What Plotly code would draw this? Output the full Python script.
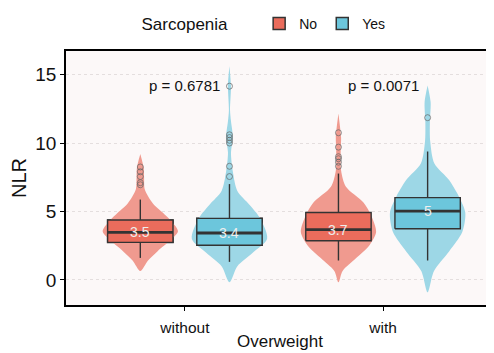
import plotly.graph_objects as go

# ---------------- data ----------------
groups = ["without", "with"]
group_pos = [0, 1]
sarcopenia = ["No", "Yes"]
offsets = {"No": -0.225, "Yes": 0.225}

# box statistics per (group, sarcopenia)
q1 = {("without", "No"): 2.74, ("without", "Yes"): 2.53, ("with", "No"): 2.86, ("with", "Yes"): 3.74}
median = {("without", "No"): 3.48, ("without", "Yes"): 3.43, ("with", "No"): 3.67, ("with", "Yes"): 5.02}
q3 = {("without", "No"): 4.38, ("without", "Yes"): 4.50, ("with", "No"): 4.93, ("with", "Yes"): 6.01}
low_whisker = {("without", "No"): 1.61, ("without", "Yes"): 1.32, ("with", "No"): 1.42, ("with", "Yes"): 1.42}
high_whisker = {("without", "No"): 5.87, ("without", "Yes"): 7.00, ("with", "No"): 7.77, ("with", "Yes"): 9.38}
median_labels = {("without", "No"): "3.5", ("without", "Yes"): "3.4", ("with", "No"): "3.7", ("with", "Yes"): "5"}

outliers = {
    ("without", "No"): [6.95, 7.1, 7.55, 7.9, 8.25],
    ("without", "Yes"): [7.55, 8.3, 10.0, 10.2, 10.4, 10.6, 14.15],
    ("with", "No"): [8.3, 8.6, 8.85, 9.0, 9.7, 10.75],
    ("with", "Yes"): [11.85],
}

# violin density profiles: NLR level and relative half-width
violin_y = {
    ("without", "No"): [0.65, 1.4, 2.1, 2.8, 3.55, 4.3, 4.9, 5.6, 6.6, 7.5, 8.2, 9.2],
    ("without", "Yes"): [-0.17, 1.0, 1.96, 3.0, 4.57, 5.5, 6.5, 7.9, 9.3, 10.4, 11.6, 12.4, 14.2, 15.6],
    ("with", "No"): [-0.17, 0.66, 1.6, 2.56, 3.5, 4.7, 5.64, 6.8, 8.0, 9.5, 10.4, 12.15],
    ("with", "Yes"): [-0.9, 0.66, 2.08, 3.5, 4.93, 6.1, 7.3, 8.5, 10.1, 11.5, 13.0, 14.2],
}
violin_w = {
    ("without", "No"): [0.0, 0.2, 0.46, 0.76, 1.0, 0.82, 0.6, 0.33, 0.12, 0.1, 0.09, 0.0],
    ("without", "Yes"): [0.0, 0.21, 0.61, 1.0, 0.8, 0.53, 0.21, 0.09, 0.04, 0.09, 0.04, 0.015, 0.04, 0.0],
    ("with", "No"): [0.0, 0.11, 0.47, 0.83, 1.0, 0.87, 0.67, 0.2, 0.07, 0.06, 0.07, 0.0],
    ("with", "Yes"): [0.0, 0.17, 0.57, 0.92, 1.0, 0.83, 0.57, 0.18, 0.07, 0.06, 0.08, 0.0],
}

p_values = ["p = 0.6781", "p = 0.0071"]
p_y = 14.2

violin_colors = {"No": "#F09A8F", "Yes": "#9DD7E6"}
box_colors = {"No": "#EA6C5C", "Yes": "#6CC6DC"}

VIOLIN_HALF = 0.19
BOX_WIDTH = 0.33
EDGE = "#333333"

fig = go.Figure()

# legend entries (box glyphs)
for s in sarcopenia:
    key = ("without", s)
    fig.add_trace(go.Box(
        x=[group_pos[0] + offsets[s]], q1=[q1[key]], median=[median[key]], q3=[q3[key]],
        lowerfence=[low_whisker[key]], upperfence=[high_whisker[key]],
        width=BOX_WIDTH, whiskerwidth=0, fillcolor=box_colors[s],
        line=dict(color=EDGE, width=1.5), boxpoints=False,
        name=s, legendgroup=s, showlegend=True, hoverinfo="skip"))

# violins
for g, gp in zip(groups, group_pos):
    for s in sarcopenia:
        key = (g, s)
        c = gp + offsets[s]
        ys = violin_y[key]
        ws = violin_w[key]
        xs_right = [c + w * VIOLIN_HALF for w in ws]
        xs_left = [c - w * VIOLIN_HALF for w in reversed(ws)]
        fig.add_trace(go.Scatter(
            x=xs_right + xs_left, y=ys + list(reversed(ys)),
            mode="lines", fill="toself", fillcolor=violin_colors[s],
            line=dict(width=0, color=violin_colors[s], shape="spline", smoothing=0.8),
            showlegend=False, hoverinfo="skip"))

# boxes drawn above violins
for g, gp in zip(groups, group_pos):
    for s in sarcopenia:
        key = (g, s)
        c = gp + offsets[s]
        fig.add_trace(go.Scatter(
            x=[c, c, None, c, c],
            y=[q3[key], high_whisker[key], None, q1[key], low_whisker[key]],
            mode="lines", line=dict(color=EDGE, width=1.4),
            showlegend=False, hoverinfo="skip"))
        l, r = c - BOX_WIDTH / 2, c + BOX_WIDTH / 2
        fig.add_trace(go.Scatter(
            x=[l, r, r, l, l], y=[q1[key], q1[key], q3[key], q3[key], q1[key]],
            mode="lines", fill="toself", fillcolor=box_colors[s],
            line=dict(color=EDGE, width=1.4),
            showlegend=False, hoverinfo="skip"))
        fig.add_trace(go.Scatter(
            x=[l, r], y=[median[key], median[key]],
            mode="lines", line=dict(color=EDGE, width=2.8),
            showlegend=False, hoverinfo="skip"))

# outliers
for g, gp in zip(groups, group_pos):
    for s in sarcopenia:
        key = (g, s)
        c = gp + offsets[s]
        fig.add_trace(go.Scatter(
            x=[c] * len(outliers[key]), y=outliers[key], mode="markers",
            marker=dict(symbol="circle-open", size=6, color="rgba(100,100,100,0.7)", line=dict(width=1)),
            showlegend=False, hoverinfo="skip"))

# median labels
for g, gp in zip(groups, group_pos):
    for s in sarcopenia:
        key = (g, s)
        fig.add_annotation(x=gp + offsets[s], y=median[key], text=median_labels[key],
                           showarrow=False, font=dict(size=14, color="#EEEEEE"))

# p-values
for gp, pt in zip(group_pos, p_values):
    fig.add_annotation(x=gp, y=p_y, text=pt, showarrow=False,
                       font=dict(size=15, color="#111111"))

# page body adds an 8px offset; the figure is sized to compensate
fig.update_layout(
    width=486, height=345,
    margin=dict(l=58, r=0, t=36, b=48),
    paper_bgcolor="white", plot_bgcolor="#FCF8F8",
    font=dict(family="Arial", color="#111111"),
    legend=dict(orientation="h", x=0.465, xanchor="center", y=1.105, yanchor="middle",
                title=dict(text="Sarcopenia     ", font=dict(size=17)),
                font=dict(size=14), bgcolor="rgba(0,0,0,0)"),
)
fig.update_xaxes(
    range=[-0.6, 1.56], tickmode="array", tickvals=group_pos, ticktext=groups,
    showgrid=False, zeroline=False, showline=True, mirror=True, linecolor="black", linewidth=1.6,
    ticks="outside", ticklen=4, tickcolor="black", tickfont=dict(size=15.5, color="#111111"),
    ticklabelstandoff=4,
    title=dict(text="Overweight", font=dict(size=17), standoff=0),
)
fig.update_yaxes(
    range=[-1.83, 16.72], tickmode="array", tickvals=[0, 5, 10, 15],
    showgrid=True, gridcolor="#E4DEDE", griddash="dot", gridwidth=1, zeroline=False,
    showline=True, mirror=False, linecolor="black", linewidth=1.6,
    ticks="outside", ticklen=4, tickcolor="black", tickfont=dict(size=19, color="#111111"),
    title=dict(text="NLR", font=dict(size=20), standoff=4),
)

fig.write_html("out.html")
